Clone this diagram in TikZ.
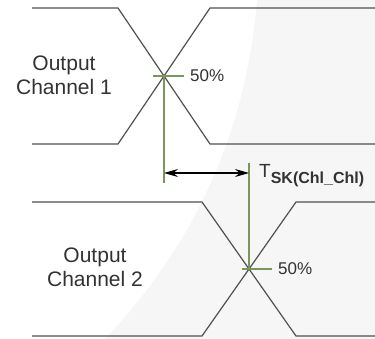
\documentclass[tikz,border=0pt]{standalone}
\usepackage{fontspec}
\setmainfont{Liberation Sans}
\usepackage{xcolor}
\usepackage{tikz}
\usetikzlibrary{arrows.meta}
\definecolor{wavegray}{RGB}{80,80,80}
\definecolor{markgreen}{RGB}{122,150,90}
\definecolor{textgray}{RGB}{50,50,50}
\definecolor{shadegray}{RGB}{246,246,246}

\begin{document}
\begin{tikzpicture}[x=1pt,y=-1pt]
\tikzstyle{wave} = [draw=wavegray, line width=1.2pt]
\tikzstyle{marker} = [draw=markgreen, line width=1.1pt]
\tikzstyle{chlabel} = [text=textgray, align=center, font=\fontsize{21}{24}\selectfont]
\tikzstyle{pct} = [text=textgray, anchor=west, inner xsep=6pt, inner ysep=0pt, font=\fontsize{17}{20}\selectfont]
%
	\useasboundingbox (0,0) rectangle (375,339);
	\fill[shadegray] (257,0) .. controls (245,150) and (180,260) .. (105,339) -- (375,339) -- (375,0) -- cycle;

	% channel 1
	\draw[wave] (32,8) -- (118,8) -- (210,144) -- (375,144);
	\draw[wave] (32,144) -- (118,144) -- (210,8) -- (375,8);
	\coordinate (x1) at (164,76);
	\node[chlabel] (ch1) at (64,75) {Output\\Channel 1};
	\node[pct] (p1) at (184,76) {50\%};
	\draw[marker] (153,76) -- (p1.west);
	\coordinate (f1) at (164,183);
	\draw[marker] (x1) -- (f1);

	% channel 2
	\draw[wave] (32,202) -- (202,202) -- (296,336) -- (375,336);
	\draw[wave] (32,336) -- (202,336) -- (296,202) -- (375,202);
	\coordinate (x2) at (249,269);
	\node[chlabel] (ch2) at (95,267) {Output\\Channel 2};
	\node[pct] (p2) at (272,269) {50\%};
	\draw[marker] (242,269) -- (p2.west);
	\coordinate (f2) at (249,163);
	\draw[marker] (f2) -- (x2);

	% skew
	\coordinate (a1) at (164,173);
	\coordinate (a2) at (249,173);
	\draw[black, line width=1.1pt, {Stealth[length=14pt,width=8pt]}-{Stealth[length=14pt,width=8pt]}] (a1) -- (a2);
	\node[text=textgray, anchor=base west, inner sep=0pt] (tsk) at (259,178) {\fontsize{19}{20}\selectfont T\raisebox{-6pt}{\fontsize{16}{18}\selectfont\bfseries SK(Chl\_Chl)}};
\end{tikzpicture}
\end{document}
